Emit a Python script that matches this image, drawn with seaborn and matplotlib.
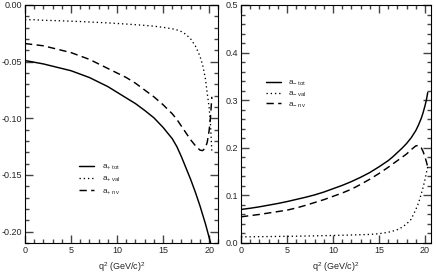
import pandas as pd
import matplotlib
matplotlib.use("Agg")
import matplotlib.pyplot as plt
from matplotlib.ticker import MultipleLocator, FormatStrFormatter
import seaborn as sns

# q^2 grid (GeV/c)^2
q2 = [0, 1, 2, 3, 4, 5, 6, 7, 8, 9, 10, 11, 12, 13, 14, 15,
      16, 16.5, 17, 17.5, 18, 18.5, 19, 19.3, 19.6, 19.8, 20.0, 20.15, 20.3]

# left panel: a_+
ap_tot = [-0.049, -0.0505, -0.052, -0.054, -0.056, -0.058, -0.061, -0.064, -0.068, -0.072,
          -0.077, -0.082, -0.087, -0.093, -0.0995, -0.108,
          -0.118, -0.125, -0.134, -0.144, -0.154, -0.165, -0.177, -0.185, -0.193, -0.199,
          -0.205, -0.2095, -0.214]
ap_val = [-0.013, -0.013, -0.0135, -0.0137, -0.014, -0.0143, -0.0146, -0.015, -0.0154, -0.0158,
          -0.0163, -0.0168, -0.0174, -0.018, -0.0187, -0.0197,
          -0.021, -0.022, -0.0235, -0.026, -0.030, -0.036, -0.045, -0.053, -0.065, -0.078,
          -0.090, -0.105, -0.130]
ap_nv = [-0.034, -0.035, -0.036, -0.038, -0.040, -0.042, -0.045, -0.048, -0.052, -0.056,
         -0.060, -0.064, -0.069, -0.075, -0.081, -0.088,
         -0.096, -0.101, -0.107, -0.113, -0.119, -0.124, -0.128, -0.1285, -0.126, -0.121,
         -0.111, -0.099, -0.081]

# right panel: a_-
am_tot = [0.0705, 0.073, 0.076, 0.0795, 0.083, 0.087, 0.0915, 0.096, 0.101, 0.107,
          0.114, 0.121, 0.129, 0.138, 0.148, 0.160,
          0.173, 0.181, 0.190, 0.199, 0.209, 0.221, 0.236, 0.248, 0.262, 0.274,
          0.288, 0.300, 0.316]
am_val = [0.013, 0.013, 0.0133, 0.0135, 0.0138, 0.014, 0.0143, 0.0146, 0.015, 0.0154,
          0.0158, 0.0163, 0.0168, 0.0174, 0.018, 0.0195,
          0.0225, 0.025, 0.028, 0.033, 0.040, 0.050, 0.070, 0.084, 0.103, 0.117,
          0.133, 0.147, 0.160]
am_nv = [0.055, 0.0575, 0.060, 0.063, 0.066, 0.069, 0.0735, 0.079, 0.085, 0.091,
         0.098, 0.105, 0.113, 0.123, 0.134, 0.146,
         0.159, 0.166, 0.173, 0.180, 0.187, 0.196, 0.204, 0.205, 0.200, 0.192,
         0.181, 0.171, 0.160]

sns.set_style("ticks")
plt.rcParams["font.family"] = ["Liberation Sans", "DejaVu Sans"]
plt.rcParams["mathtext.fontset"] = "custom"
plt.rcParams["mathtext.rm"] = "Liberation Sans"
plt.rcParams["mathtext.it"] = "Liberation Sans"

fig = plt.figure(figsize=(4.36, 2.73), dpi=100)
ax1 = fig.add_axes([0.0573, 0.1099, 0.4434, 0.8718])
ax2 = fig.add_axes([0.5528, 0.1099, 0.4358, 0.8718])

styles = {"tot": dict(ls="-", lw=1.05),
          "val": dict(ls=(0, (1, 2.2)), lw=0.95),
          "nv": dict(ls=(0, (5, 3)), lw=1.05)}


def draw(ax, sign, series):
    for name, vals in series:
        d = pd.DataFrame({"q2": q2, "a": vals})
        sns.lineplot(data=d, x="q2", y="a", ax=ax, color="black",
                     label=r"a$_{%s\ \mathrm{%s}}$" % (sign, name), **styles[name])


draw(ax1, "+", [("tot", ap_tot), ("val", ap_val), ("nv", ap_nv)])
draw(ax2, "-", [("tot", am_tot), ("val", am_val), ("nv", am_nv)])

ax1.set_xlim(0, 21)
ax1.set_ylim(-0.21, 0)
ax1.yaxis.set_major_locator(MultipleLocator(0.05))
ax1.yaxis.set_minor_locator(MultipleLocator(0.01))
ax1.yaxis.set_major_formatter(FormatStrFormatter("%.2f"))

ax2.set_xlim(0, 20.66)
ax2.set_ylim(0, 0.5)
ax2.yaxis.set_major_locator(MultipleLocator(0.1))
ax2.yaxis.set_minor_locator(MultipleLocator(0.02))
ax2.yaxis.set_major_formatter(FormatStrFormatter("%.1f"))

for ax in (ax1, ax2):
    ax.xaxis.set_major_locator(MultipleLocator(5))
    ax.xaxis.set_minor_locator(MultipleLocator(1))
    ax.tick_params(which="major", direction="in", length=6, width=1.0, color="#444444",
                   top=True, right=True, labelsize=6.5, pad=2)
    ax.tick_params(which="minor", direction="in", length=3, width=1.0, color="#444444",
                   top=True, right=True)
    for s in ax.spines.values():
        s.set_linewidth(0.8)
        s.set_color("black")
    ax.set_xlabel(r"q$^2$ (GeV/c)$^2$", fontsize=6.5, labelpad=4)
    ax.set_ylabel("")

ax1.legend(loc="upper left", bbox_to_anchor=(0.25, 0.36), frameon=False,
           fontsize=6, handlelength=1.8, handletextpad=0.9, labelspacing=0.35, borderpad=0.2)
ax2.legend(loc="upper left", bbox_to_anchor=(0.10, 0.715), frameon=False,
           fontsize=6, handlelength=1.8, handletextpad=0.9, labelspacing=0.2, borderpad=0.2)

fig.savefig("out.png", dpi=100)
